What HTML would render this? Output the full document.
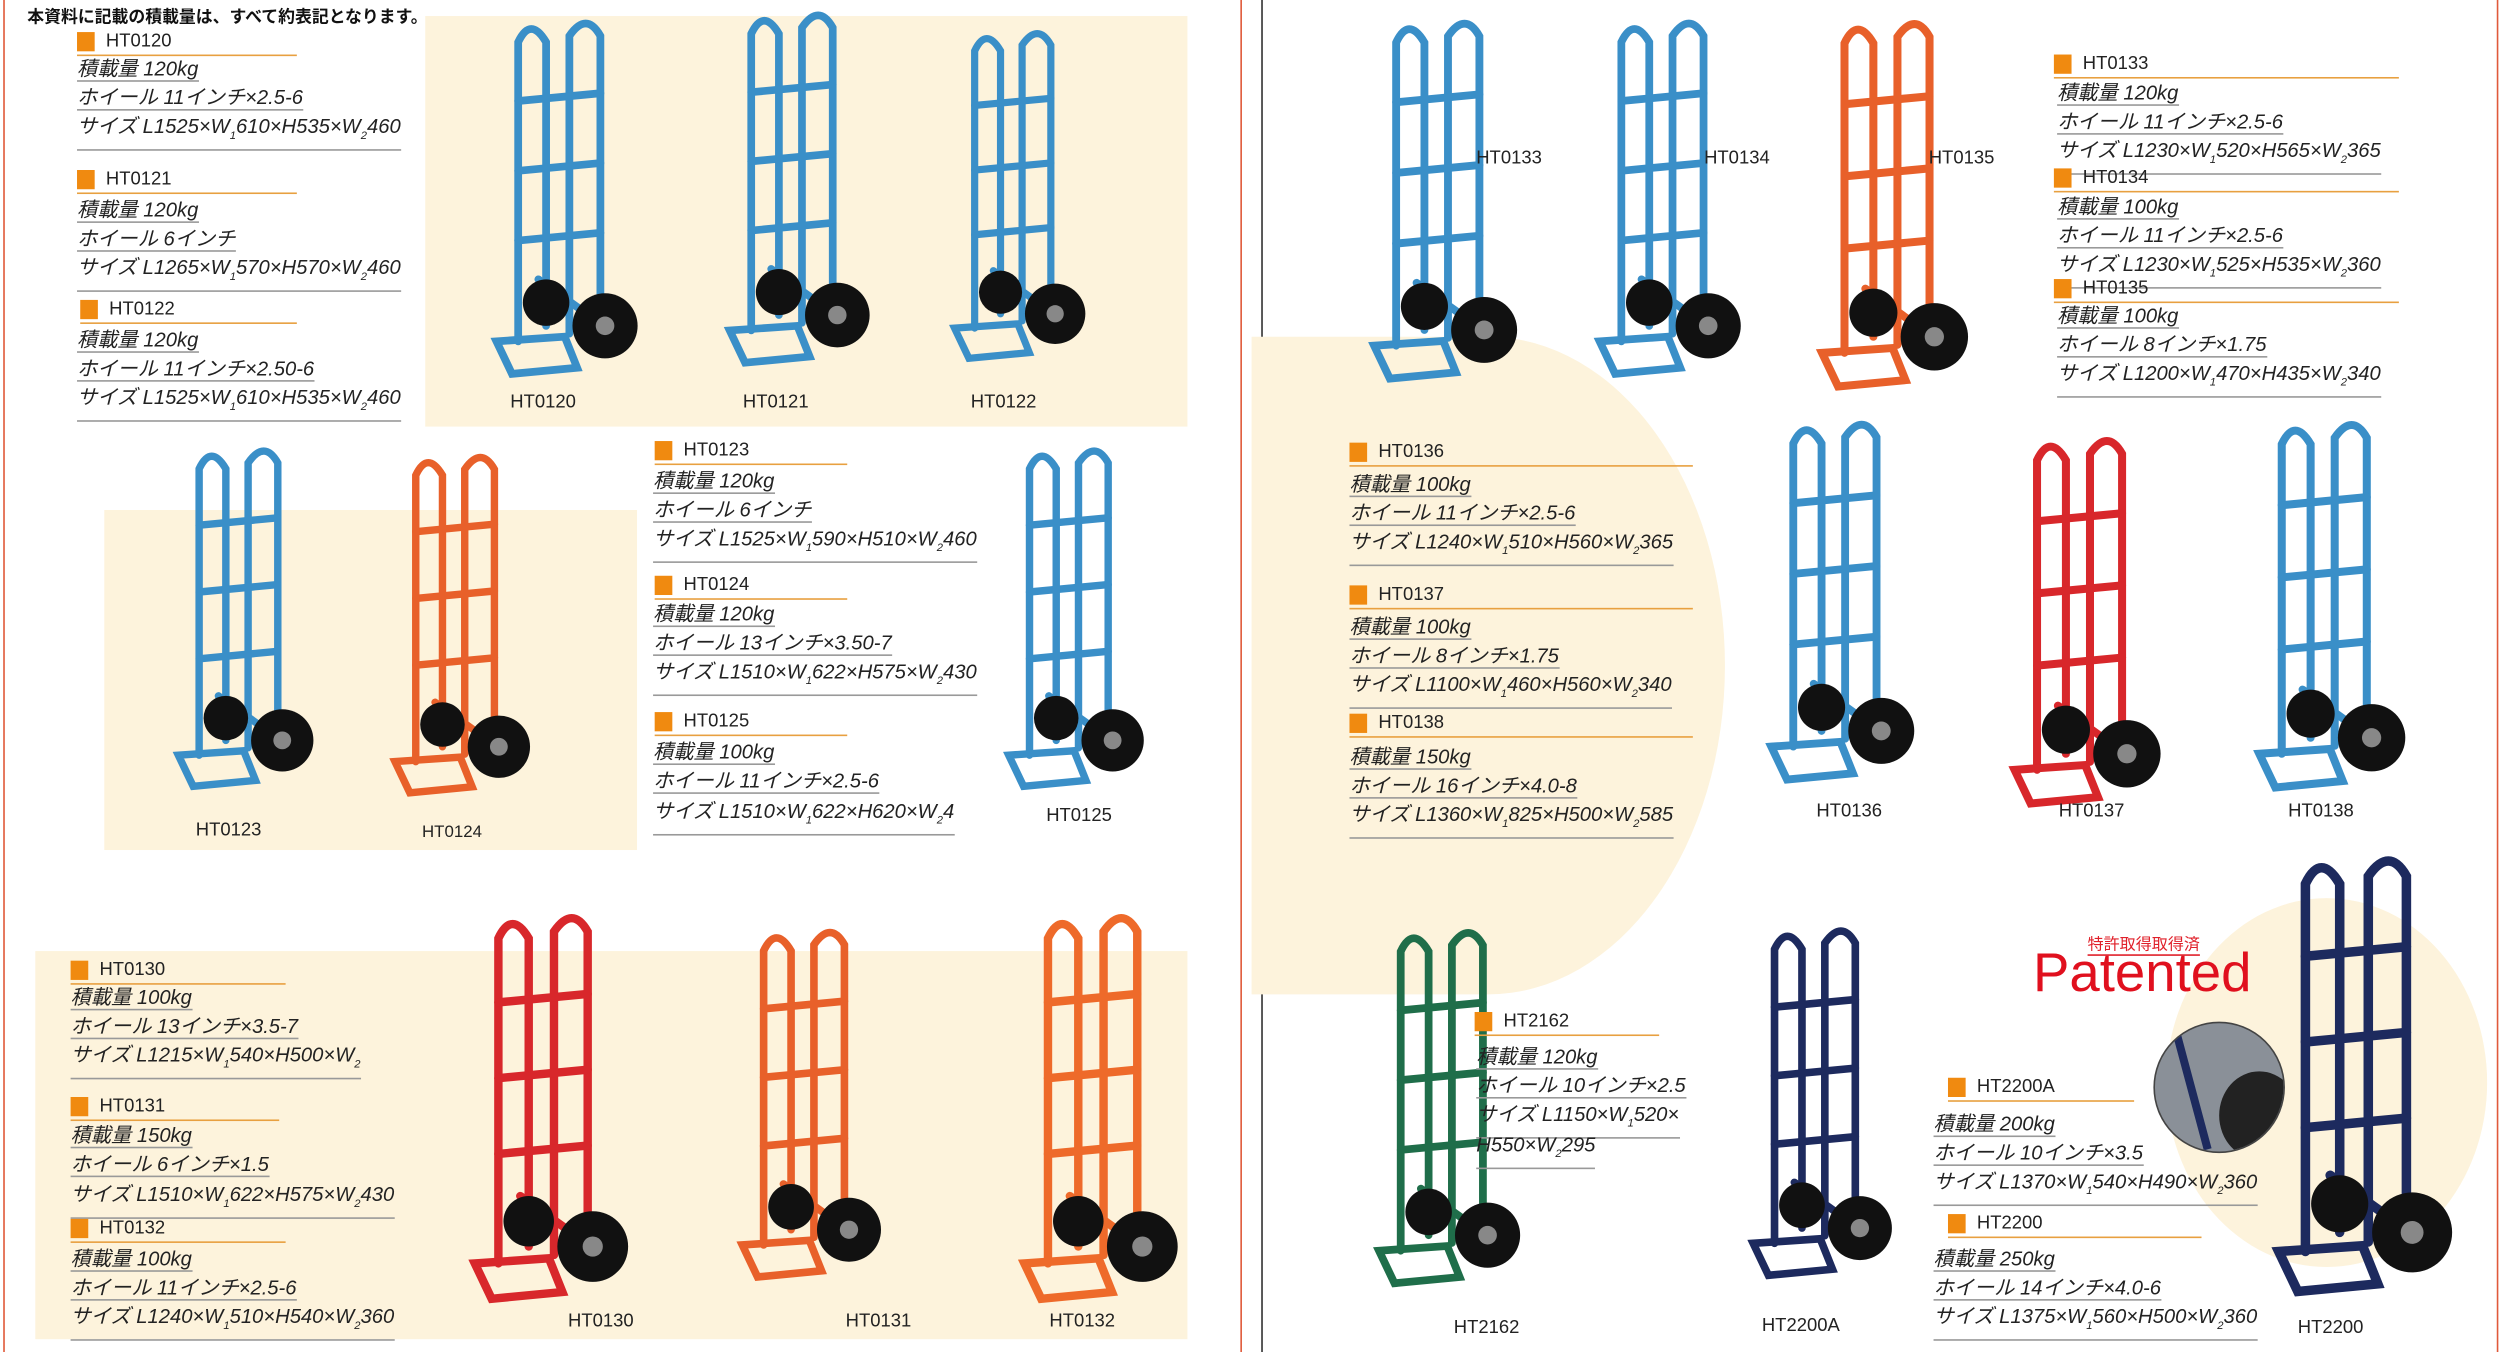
<!DOCTYPE html>
<html><head><meta charset="utf-8">
<style>
html,body{margin:0;padding:0;background:#fff;}
body{width:2516px;height:1352px;overflow:hidden;position:relative;}
#w{position:absolute;left:0;top:0;width:1568px;height:843px;transform-origin:0 0;transform:scale(1.6046,1.6038);}
.a{position:absolute;}
.bg{position:absolute;background:#fdf3dc;}
.t{position:absolute;font:italic 12.6px "Liberation Sans","Noto Sans CJK JP",sans-serif;color:#222;line-height:14px;white-space:nowrap;border-bottom:1.5px solid #999;}
.t sub{font-size:7px;}
.h{position:absolute;font:11.5px "Liberation Sans",sans-serif;color:#222;line-height:14px;white-space:nowrap;border-bottom:1.5px solid #e8a040;padding-left:18px;height:15px;}
.h:before{content:"";position:absolute;left:0;top:1px;width:11px;height:12px;background:#f08a10;}
.l{position:absolute;font:11.5px "Liberation Sans",sans-serif;color:#222;white-space:nowrap;}
svg.tr{position:absolute;overflow:visible;}
</style></head><body><div id="w">
<!-- page lines -->
<div class="a" style="left:2px;top:0;width:1px;height:843px;background:#e05a3a"></div>
<div class="a" style="left:773px;top:0;width:1px;height:843px;background:#e05a3a"></div>
<div class="a" style="left:786px;top:0;width:1px;height:843px;background:#333"></div>
<div class="a" style="left:1556px;top:0;width:1px;height:843px;background:#e05a3a"></div>
<!-- backgrounds -->
<div class="bg" style="left:265px;top:10px;width:475px;height:256px"></div>
<div class="bg" style="left:65px;top:318px;width:332px;height:212px"></div>
<div class="bg" style="left:22px;top:593px;width:718px;height:242px"></div>
<div class="a" style="left:780px;top:210px;width:295px;height:410px;background:#fdf3dc;border-radius:0 50% 50% 0/0 50% 50% 0;"></div>
<div class="a" style="left:1350px;top:560px;width:200px;height:230px;background:#fdf3dc;border-radius:50%;"></div>

<svg width="0" height="0" style="position:absolute">
<defs>
<symbol id="truck" viewBox="0 0 100 240" overflow="visible">
 <g fill="none" stroke="currentColor" stroke-width="5" stroke-linecap="round">
  <path d="M22,215 L22,22 Q30,5 40,22 L40,205"/>
  <path d="M55,210 L55,18 Q66,2 75,18 L75,200"/>
  <path d="M22,60 L75,55 M22,105 L75,100 M22,150 L75,145 M35,175 L70,200"/>
  <path d="M8,215 L52,212 L60,232 L18,236 Z"/>
 </g>
 <circle cx="40" cy="190" r="15" fill="#111"/>
 <circle cx="78" cy="205" r="21" fill="#111"/>
 <circle cx="78" cy="205" r="6" fill="#888"/>
</symbol>
</defs></svg>

<!-- trucks left -->
<svg class="tr" style="left:290px;top:5px;width:120px;height:232px;color:#3a8fc8"><use href="#truck"/></svg>
<svg class="tr" style="left:435px;top:0px;width:120px;height:230px;color:#3a8fc8"><use href="#truck"/></svg>
<svg class="tr" style="left:585px;top:12px;width:95px;height:215px;color:#3a8fc8"><use href="#truck"/></svg>
<svg class="tr" style="left:100px;top:272px;width:100px;height:222px;color:#3a8fc8"><use href="#truck"/></svg>
<svg class="tr" style="left:235px;top:276px;width:100px;height:222px;color:#e8602a"><use href="#truck"/></svg>
<svg class="tr" style="left:615px;top:272px;width:105px;height:222px;color:#3a8fc8"><use href="#truck"/></svg>
<svg class="tr" style="left:280px;top:562px;width:120px;height:252px;color:#d8272b"><use href="#truck"/></svg>
<svg class="tr" style="left:455px;top:562px;width:95px;height:248px;color:#e8602a"><use href="#truck"/></svg>
<svg class="tr" style="left:620px;top:562px;width:125px;height:252px;color:#ee6a2a"><use href="#truck"/></svg>
<!-- trucks right -->
<svg class="tr" style="left:835px;top:5px;width:125px;height:235px;color:#3a8fc8"><use href="#truck"/></svg>
<svg class="tr" style="left:985px;top:5px;width:105px;height:232px;color:#3a8fc8"><use href="#truck"/></svg>
<svg class="tr" style="left:1125px;top:5px;width:105px;height:240px;color:#e8602a"><use href="#truck"/></svg>
<svg class="tr" style="left:1085px;top:255px;width:120px;height:235px;color:#3a8fc8"><use href="#truck"/></svg>
<svg class="tr" style="left:1225px;top:265px;width:145px;height:240px;color:#d8272b"><use href="#truck"/></svg>
<svg class="tr" style="left:1395px;top:255px;width:110px;height:240px;color:#3a8fc8"><use href="#truck"/></svg>
<svg class="tr" style="left:845px;top:572px;width:110px;height:232px;color:#1f6e4a"><use href="#truck"/></svg>
<svg class="tr" style="left:1085px;top:565px;width:95px;height:240px;color:#1d2a5e"><use href="#truck"/></svg>
<svg class="tr" style="left:1410px;top:525px;width:120px;height:285px;color:#1d2a5e"><use href="#truck"/></svg>
<div class="a" style="left:1342px;top:637px;width:80px;height:80px;border-radius:50%;background:#8a9098;border:1px solid #444;overflow:hidden">
 <div class="a" style="left:40px;top:30px;width:50px;height:55px;border-radius:50%;background:#222"></div>
 <div class="a" style="left:20px;top:0;width:5px;height:80px;background:#1d2a5e;transform:rotate(-15deg)"></div>
</div>

<!-- header -->
<div class="a" style="left:17px;top:3px;font:bold 10.5px 'Liberation Sans','Noto Sans CJK JP',sans-serif;color:#111;white-space:nowrap">本資料に記載の積載量は、すべて約表記となります。</div>

<!-- labels -->
<div class="l" style="left:318px;top:245px">HT0120</div>
<div class="l" style="left:463px;top:245px">HT0121</div>
<div class="l" style="left:605px;top:245px">HT0122</div>
<div class="l" style="left:122px;top:512px">HT0123</div>
<div class="l" style="left:263px;top:513px;font-size:10.5px">HT0124</div>
<div class="l" style="left:652px;top:503px">HT0125</div>
<div class="l" style="left:354px;top:818px">HT0130</div>
<div class="l" style="left:527px;top:818px">HT0131</div>
<div class="l" style="left:654px;top:818px">HT0132</div>
<div class="l" style="left:920px;top:93px">HT0133</div>
<div class="l" style="left:1062px;top:93px">HT0134</div>
<div class="l" style="left:1202px;top:93px">HT0135</div>
<div class="l" style="left:1132px;top:500px">HT0136</div>
<div class="l" style="left:1283px;top:500px">HT0137</div>
<div class="l" style="left:1426px;top:500px">HT0138</div>
<div class="l" style="left:906px;top:822px">HT2162</div>
<div class="l" style="left:1098px;top:821px">HT2200A</div>
<div class="l" style="left:1432px;top:822px">HT2200</div>

<!-- patented -->
<div class="a" style="left:1301px;top:580px;font:10px 'Liberation Sans','Noto Sans CJK JP',sans-serif;color:#e0202a;border-bottom:1px solid #e0202a;white-space:nowrap">特許取得取得済</div>
<div class="a" style="left:1267px;top:588px;font:34px 'Liberation Sans',sans-serif;color:#e0101e;white-space:nowrap">Patented</div>

<!-- specs left -->
<div class="h" style="left:48px;top:19px;width:119px">HT0120</div>
<div class="t" style="left:48px;top:36px">積載量 120kg</div>
<div class="t" style="left:48px;top:54px">ホイール 11インチ×2.5-6</div>
<div class="t" style="left:48px;top:72px">サイズ L1525×W<sub>1</sub>610×H535×W<sub>2</sub>460</div>
<div class="h" style="left:48px;top:105px;width:119px">HT0121</div>
<div class="t" style="left:48px;top:124px">積載量 120kg</div>
<div class="t" style="left:48px;top:142px">ホイール 6インチ</div>
<div class="t" style="left:48px;top:160px">サイズ L1265×W<sub>1</sub>570×H570×W<sub>2</sub>460</div>
<div class="h" style="left:50px;top:186px;width:117px">HT0122</div>
<div class="t" style="left:48px;top:205px">積載量 120kg</div>
<div class="t" style="left:48px;top:223px">ホイール 11インチ×2.50-6</div>
<div class="t" style="left:48px;top:241px">サイズ L1525×W<sub>1</sub>610×H535×W<sub>2</sub>460</div>

<div class="h" style="left:408px;top:274px;width:102px">HT0123</div>
<div class="t" style="left:407px;top:293px">積載量 120kg</div>
<div class="t" style="left:407px;top:311px">ホイール 6インチ</div>
<div class="t" style="left:407px;top:329px">サイズ L1525×W<sub>1</sub>590×H510×W<sub>2</sub>460</div>
<div class="h" style="left:408px;top:358px;width:102px">HT0124</div>
<div class="t" style="left:407px;top:376px">積載量 120kg</div>
<div class="t" style="left:407px;top:394px">ホイール 13インチ×3.50-7</div>
<div class="t" style="left:407px;top:412px">サイズ L1510×W<sub>1</sub>622×H575×W<sub>2</sub>430</div>
<div class="h" style="left:408px;top:443px;width:102px">HT0125</div>
<div class="t" style="left:407px;top:462px">積載量 100kg</div>
<div class="t" style="left:407px;top:480px">ホイール 11インチ×2.5-6</div>
<div class="t" style="left:407px;top:499px">サイズ L1510×W<sub>1</sub>622×H620×W<sub>2</sub>4</div>

<div class="h" style="left:44px;top:598px;width:116px">HT0130</div>
<div class="t" style="left:44px;top:615px">積載量 100kg</div>
<div class="t" style="left:44px;top:633px">ホイール 13インチ×3.5-7</div>
<div class="t" style="left:44px;top:651px">サイズ L1215×W<sub>1</sub>540×H500×W<sub>2</sub></div>
<div class="h" style="left:44px;top:683px;width:112px">HT0131</div>
<div class="t" style="left:44px;top:701px">積載量 150kg</div>
<div class="t" style="left:44px;top:719px">ホイール 6インチ×1.5</div>
<div class="t" style="left:44px;top:738px">サイズ L1510×W<sub>1</sub>622×H575×W<sub>2</sub>430</div>
<div class="h" style="left:44px;top:759px;width:116px">HT0132</div>
<div class="t" style="left:44px;top:778px">積載量 100kg</div>
<div class="t" style="left:44px;top:796px">ホイール 11インチ×2.5-6</div>
<div class="t" style="left:44px;top:814px">サイズ L1240×W<sub>1</sub>510×H540×W<sub>2</sub>360</div>

<!-- specs right -->
<div class="h" style="left:1280px;top:33px;width:197px">HT0133</div>
<div class="t" style="left:1282px;top:51px">積載量 120kg</div>
<div class="t" style="left:1282px;top:69px">ホイール 11インチ×2.5-6</div>
<div class="t" style="left:1282px;top:87px">サイズ L1230×W<sub>1</sub>520×H565×W<sub>2</sub>365</div>
<div class="h" style="left:1280px;top:104px;width:197px">HT0134</div>
<div class="t" style="left:1282px;top:122px">積載量 100kg</div>
<div class="t" style="left:1282px;top:140px">ホイール 11インチ×2.5-6</div>
<div class="t" style="left:1282px;top:158px">サイズ L1230×W<sub>1</sub>525×H535×W<sub>2</sub>360</div>
<div class="h" style="left:1280px;top:173px;width:197px">HT0135</div>
<div class="t" style="left:1282px;top:190px">積載量 100kg</div>
<div class="t" style="left:1282px;top:208px">ホイール 8インチ×1.75</div>
<div class="t" style="left:1282px;top:226px">サイズ L1200×W<sub>1</sub>470×H435×W<sub>2</sub>340</div>

<div class="h" style="left:841px;top:275px;width:196px">HT0136</div>
<div class="t" style="left:841px;top:295px">積載量 100kg</div>
<div class="t" style="left:841px;top:313px">ホイール 11インチ×2.5-6</div>
<div class="t" style="left:841px;top:331px">サイズ L1240×W<sub>1</sub>510×H560×W<sub>2</sub>365</div>
<div class="h" style="left:841px;top:364px;width:196px">HT0137</div>
<div class="t" style="left:841px;top:384px">積載量 100kg</div>
<div class="t" style="left:841px;top:402px">ホイール 8インチ×1.75</div>
<div class="t" style="left:841px;top:420px">サイズ L1100×W<sub>1</sub>460×H560×W<sub>2</sub>340</div>
<div class="h" style="left:841px;top:444px;width:196px">HT0138</div>
<div class="t" style="left:841px;top:465px">積載量 150kg</div>
<div class="t" style="left:841px;top:483px">ホイール 16インチ×4.0-8</div>
<div class="t" style="left:841px;top:501px">サイズ L1360×W<sub>1</sub>825×H500×W<sub>2</sub>585</div>

<div class="h" style="left:919px;top:630px;width:97px">HT2162</div>
<div class="t" style="left:920px;top:652px">積載量 120kg</div>
<div class="t" style="left:920px;top:670px">ホイール 10インチ×2.5</div>
<div class="t" style="left:920px;top:688px">サイズ L1150×W<sub>1</sub>520×</div>
<div class="t" style="left:920px;top:707px">H550×W<sub>2</sub>295</div>
<div class="h" style="left:1214px;top:671px;width:98px">HT2200A</div>
<div class="t" style="left:1205px;top:694px">積載量 200kg</div>
<div class="t" style="left:1205px;top:712px">ホイール 10インチ×3.5</div>
<div class="t" style="left:1205px;top:730px">サイズ L1370×W<sub>1</sub>540×H490×W<sub>2</sub>360</div>
<div class="h" style="left:1214px;top:756px;width:140px">HT2200</div>
<div class="t" style="left:1205px;top:778px">積載量 250kg</div>
<div class="t" style="left:1205px;top:796px">ホイール 14インチ×4.0-6</div>
<div class="t" style="left:1205px;top:814px">サイズ L1375×W<sub>1</sub>560×H500×W<sub>2</sub>360</div>
</div></body></html>
